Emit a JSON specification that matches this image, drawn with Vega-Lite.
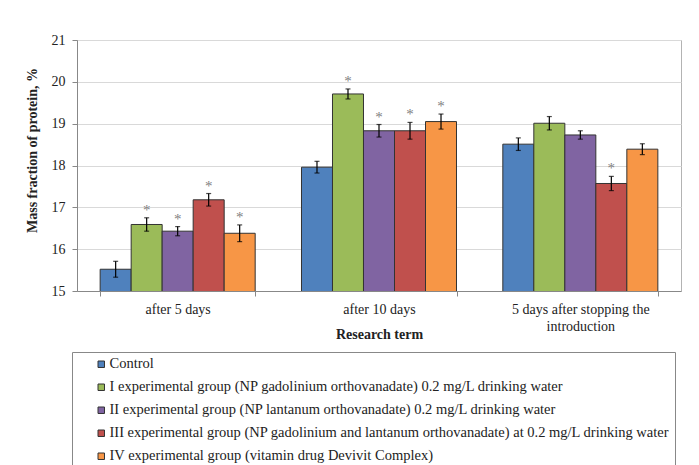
{
  "$schema": "https://vega.github.io/schema/vega-lite/v6.json",
  "width": 604,
  "height": 251,
  "autosize": {"type": "none"},
  "padding": {"left": 77, "top": 40, "right": 18, "bottom": 174},
  "background": "white",
  "config": {
    "font": "Liberation Serif",
    "view": {"stroke": "#b3b3b3"},
    "axis": {"labelFont": "Liberation Serif", "titleFont": "Liberation Serif"},
    "legend": {"labelFont": "Liberation Serif", "titleFont": "Liberation Serif"},
    "text": {"font": "Liberation Serif"}
  },
  "data": {
    "values": [
      {"term": "after 5 days", "group": "Control", "value": 15.52, "lo": 15.33, "hi": 15.71, "sig": ""},
      {"term": "after 5 days", "group": "I experimental group (NP gadolinium orthovanadate) 0.2 mg/L drinking water", "value": 16.59, "lo": 16.43, "hi": 16.75, "sig": "*"},
      {"term": "after 5 days", "group": "II experimental group (NP lantanum orthovanadate) 0.2 mg/L drinking water", "value": 16.43, "lo": 16.32, "hi": 16.54, "sig": "*"},
      {"term": "after 5 days", "group": "III experimental group (NP gadolinium and lantanum orthovanadate) at 0.2 mg/L drinking water", "value": 17.18, "lo": 17.03, "hi": 17.33, "sig": "*"},
      {"term": "after 5 days", "group": "IV experimental group (vitamin drug Devivit Complex)", "value": 16.38, "lo": 16.18, "hi": 16.58, "sig": "*"},
      {"term": "after 10 days", "group": "Control", "value": 17.96, "lo": 17.82, "hi": 18.10, "sig": ""},
      {"term": "after 10 days", "group": "I experimental group (NP gadolinium orthovanadate) 0.2 mg/L drinking water", "value": 19.71, "lo": 19.59, "hi": 19.83, "sig": "*"},
      {"term": "after 10 days", "group": "II experimental group (NP lantanum orthovanadate) 0.2 mg/L drinking water", "value": 18.83, "lo": 18.68, "hi": 18.98, "sig": "*"},
      {"term": "after 10 days", "group": "III experimental group (NP gadolinium and lantanum orthovanadate) at 0.2 mg/L drinking water", "value": 18.83, "lo": 18.63, "hi": 19.03, "sig": "*"},
      {"term": "after 10 days", "group": "IV experimental group (vitamin drug Devivit Complex)", "value": 19.05, "lo": 18.87, "hi": 19.23, "sig": "*"},
      {"term": "5 days after stopping the introduction", "group": "Control", "value": 18.51, "lo": 18.36, "hi": 18.66, "sig": ""},
      {"term": "5 days after stopping the introduction", "group": "I experimental group (NP gadolinium orthovanadate) 0.2 mg/L drinking water", "value": 19.01, "lo": 18.85, "hi": 19.17, "sig": ""},
      {"term": "5 days after stopping the introduction", "group": "II experimental group (NP lantanum orthovanadate) 0.2 mg/L drinking water", "value": 18.73, "lo": 18.63, "hi": 18.83, "sig": ""},
      {"term": "5 days after stopping the introduction", "group": "III experimental group (NP gadolinium and lantanum orthovanadate) at 0.2 mg/L drinking water", "value": 17.57, "lo": 17.40, "hi": 17.74, "sig": "*"},
      {"term": "5 days after stopping the introduction", "group": "IV experimental group (vitamin drug Devivit Complex)", "value": 18.39, "lo": 18.26, "hi": 18.52, "sig": ""}
    ]
  },
  "encoding": {
    "x": {
      "field": "term",
      "type": "nominal",
      "sort": ["after 5 days", "after 10 days", "5 days after stopping the introduction"],
      "scale": {"paddingInner": 0.23, "paddingOuter": 0.115},
      "axis": {
        "title": "Research term",
        "labelAngle": 0,
        "labelFontSize": 14,
        "labelColor": "#222222",
        "labelPadding": 6,
        "labelBaseline": "top",
        "labelLineHeight": 17,
        "labelExpr": "datum.value == '5 days after stopping the introduction' ? ['5 days after stopping the', 'introduction'] : datum.value",
        "tickBand": "extent",
        "tickSize": 5,
        "tickColor": "#888888",
        "domainColor": "#888888",
        "grid": false,
        "titleFontSize": 14,
        "titleFontWeight": "bold",
        "titleColor": "#222222",
        "titleY": 43,
        "titleBaseline": "middle"
      }
    },
    "xOffset": {
      "field": "group",
      "type": "nominal",
      "sort": [
        "Control",
        "I experimental group (NP gadolinium orthovanadate) 0.2 mg/L drinking water",
        "II experimental group (NP lantanum orthovanadate) 0.2 mg/L drinking water",
        "III experimental group (NP gadolinium and lantanum orthovanadate) at 0.2 mg/L drinking water",
        "IV experimental group (vitamin drug Devivit Complex)"
      ],
      "scale": {"paddingInner": 0, "paddingOuter": 0}
    }
  },
  "layer": [
    {
      "mark": {"type": "bar", "stroke": "#333333", "strokeWidth": 1, "clip": true},
      "encoding": {
        "y": {
          "field": "value",
          "type": "quantitative",
          "scale": {"domain": [15, 21], "zero": false, "nice": false},
          "axis": {
            "title": "Mass fraction of protein, %",
            "values": [15, 16, 17, 18, 19, 20, 21],
            "grid": true,
            "gridColor": "#d9d9d9",
            "domainColor": "#888888",
            "tickColor": "#888888",
            "tickSize": 5,
            "labelPadding": 7,
            "labelFontSize": 14,
            "labelColor": "#222222",
            "titleFontSize": 14,
            "titleFontWeight": "bold",
            "titleColor": "#222222",
            "titleX": -45,
            "titleY": 110,
            "titleAngle": -90,
            "titleAlign": "center",
            "titleBaseline": "middle"
          }
        },
        "color": {
          "field": "group",
          "type": "nominal",
          "sort": [
            "Control",
            "I experimental group (NP gadolinium orthovanadate) 0.2 mg/L drinking water",
            "II experimental group (NP lantanum orthovanadate) 0.2 mg/L drinking water",
            "III experimental group (NP gadolinium and lantanum orthovanadate) at 0.2 mg/L drinking water",
            "IV experimental group (vitamin drug Devivit Complex)"
          ],
          "scale": {"range": ["#4F81BD", "#9BBB59", "#8064A2", "#C0504D", "#F79646"]},
          "legend": {
            "orient": "none",
            "legendX": -5,
            "legendY": 312,
            "title": null,
            "direction": "vertical",
            "strokeColor": "#888888",
            "fillColor": "white",
            "padding": 5,
            "symbolType": "square",
            "symbolSize": 42,
            "symbolStrokeColor": "#333333",
            "symbolStrokeWidth": 1,
            "symbolOffset": 17,
            "labelOffset": 1,
            "labelFont": "Liberation Serif",
            "labelFontSize": 14.5,
            "labelColor": "#222222",
            "labelLimit": 700,
            "rowPadding": 8
          }
        }
      }
    },
    {
      "mark": {"type": "rule", "color": "black", "strokeWidth": 1.2},
      "encoding": {
        "y": {"field": "lo", "type": "quantitative"},
        "y2": {"field": "hi"}
      }
    },
    {
      "mark": {"type": "tick", "color": "black", "size": 5, "thickness": 1.2},
      "encoding": {"y": {"field": "lo", "type": "quantitative"}}
    },
    {
      "mark": {"type": "tick", "color": "black", "size": 5, "thickness": 1.2},
      "encoding": {"y": {"field": "hi", "type": "quantitative"}}
    },
    {
      "mark": {"type": "text", "color": "#7f7f7f", "font": "Liberation Serif", "fontSize": 15, "baseline": "middle", "dy": -8},
      "encoding": {
        "y": {"field": "hi", "type": "quantitative"},
        "text": {"field": "sig"}
      }
    }
  ]
}
